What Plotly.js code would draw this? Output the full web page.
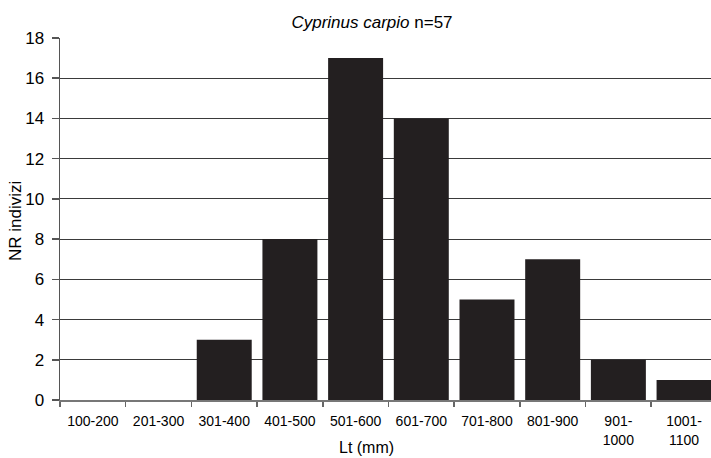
<!DOCTYPE html>
<html><head><meta charset="utf-8">
<script src="https://cdn.plot.ly/plotly-3.0.1.min.js"></script>
<style>html,body{margin:0;padding:0;background:#fff}#chart{width:711px;height:458px}</style>
</head><body><div id="chart"></div>
<script>
const categories = ["100-200","201-300","301-400","401-500","501-600","601-700","701-800","801-900","901-1000","1001-1100"];
const tickLabels = ["100-200","201-300","301-400","401-500","501-600","601-700","701-800","801-900","901-<br>1000","1001-<br>1100"];
const counts = [0,0,3,8,17,14,5,7,2,1];
const yTicks = [0,2,4,6,8,10,12,14,16,18];

Plotly.newPlot('chart', [{
  type: 'bar', x: categories, y: counts,
  marker: {color: '#231f20', line: {width: 0}},
  hoverinfo: 'x+y'
}], {
  width: 711, height: 458,
  margin: {l: 60, r: 0, t: 38, b: 58},
  paper_bgcolor: '#fff', plot_bgcolor: '#fff',
  bargap: 0.163,
  font: {family: 'Liberation Sans, Arial, sans-serif', color: '#000'},
  showlegend: false,
  title: {text: '<i>Cyprinus carpio</i> n=57', x: 372/711, xanchor: 'center', y: 1 - 22/458, yanchor: 'middle', font: {size: 17, color: '#000'}},
  xaxis: {
    type: 'category', tickmode: 'array', tickvals: categories, ticktext: tickLabels,
    range: [-0.5, 9.41],
    tickson: 'boundaries', ticks: 'outside', ticklen: 5, tickcolor: '#666', tickwidth: 1.5,
    ticklabelstandoff: 8,
    showline: true, linecolor: '#777', linewidth: 1.5, showgrid: false,
    tickfont: {size: 14, color: '#000'}, tickangle: 0, automargin: false
  },
  yaxis: {
    range: [0, 18], tickmode: 'array', tickvals: yTicks,
    ticks: 'outside', ticklen: 7, tickcolor: '#555', tickwidth: 1.5,
    ticklabelstandoff: 4,
    showline: true, linecolor: '#555', linewidth: 1.5,
    showgrid: true, gridcolor: '#3a3a3a', gridwidth: 1, zeroline: false,
    tickfont: {size: 17, color: '#000'}, automargin: false
  },
  annotations: [{
    text: 'Lt (mm)', xref: 'paper', yref: 'paper', x: (366-60)/651, y: 0, yshift: -47,
    xanchor: 'center', yanchor: 'middle', showarrow: false, font: {size: 16, color: '#000'}
  }, {
    text: 'NR indivizi', xref: 'paper', yref: 'paper', x: 0, xshift: -45, y: 1 - (221-38)/362,
    xanchor: 'center', yanchor: 'middle', textangle: -90, showarrow: false, font: {size: 17, color: '#000'}
  }]
}, {displayModeBar: false, staticPlot: true});
</script></body></html>
